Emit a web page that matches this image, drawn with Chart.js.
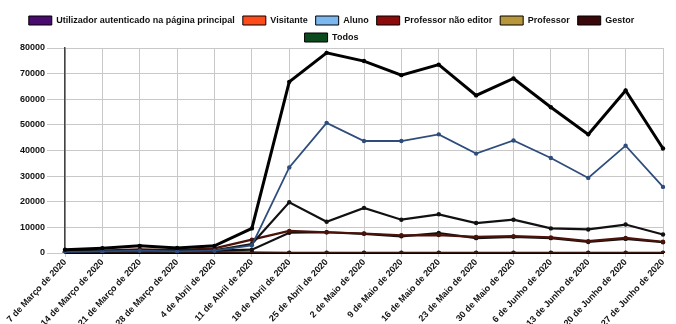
<!DOCTYPE html>
<html>
<head>
<meta charset="utf-8">
<script src="https://cdn.jsdelivr.net/npm/chart.js@4/dist/chart.umd.min.js"></script>
<style>
html,body{margin:0;padding:0;background:#fff;}
#wrap{width:676px;height:324px;position:relative;}
</style>
</head>
<body>
<div id="wrap"><canvas id="c" width="676" height="324"></canvas></div>
<script>
const categories = ["7 de Março de 2020","14 de Março de 2020","21 de Março de 2020","28 de Março de 2020","4 de Abril de 2020","11 de Abril de 2020","18 de Abril de 2020","25 de Abril de 2020","2 de Maio de 2020","9 de Maio de 2020","16 de Maio de 2020","23 de Maio de 2020","30 de Maio de 2020","6 de Junho de 2020","13 de Junho de 2020","20 de Junho de 2020","27 de Junho de 2020"];
const seriesNames = ["Utilizador autenticado na página principal","Visitante","Aluno","Professor não editor","Professor","Gestor","Todos"];
const utilizador = [500, 700, 1000, 800, 1000, 3500, 19800, 12200, 17600, 13000, 15100, 11700, 13000, 9600, 9200, 11100, 7200];
const visitante = [100, 200, 300, 200, 400, 300, 100, 100, 100, 100, 100, 100, 100, 100, 100, 100, 100];
const aluno = [400, 600, 900, 600, 900, 3000, 33400, 50800, 43700, 43700, 46300, 38800, 43900, 37100, 29300, 41900, 25800];
const profNaoEditor = [600, 900, 1400, 1100, 1800, 5200, 8600, 8100, 7600, 6900, 7000, 6300, 6600, 6100, 4600, 5900, 4400];
const professor = [300, 500, 700, 500, 900, 1300, 7900, 8100, 7500, 6500, 7800, 5800, 6300, 5800, 4300, 5500, 4200];
const gestor = [0, 0, 0, 0, 0, 0, 0, 0, 0, 0, 0, 0, 0, 0, 0, 0, 0];
const todos = [1300, 1900, 2800, 2000, 2800, 9600, 66800, 78100, 74900, 69400, 73500, 61500, 68100, 56900, 46300, 63400, 40800];
const yTicks = [0, 10000, 20000, 30000, 40000, 50000, 60000, 70000, 80000];

const FONT = "'Liberation Sans', Arial, sans-serif";
function ds(label, data, fill, line, width) {
  return {label, data, backgroundColor: fill, borderColor: line, borderWidth: width,
    pointRadius: 2.2, pointBackgroundColor: line, pointBorderColor: line, pointBorderWidth: 0,
    tension: 0, fill: false};
}
const legendHeight = {id:'legendHeight', beforeInit(chart){
  const fit = chart.legend.fit;
  chart.legend.fit = function(){ fit.call(this); this.height = 40; };
}};
new Chart(document.getElementById('c'), {
  type: 'line',
  data: {
    labels: categories,
    datasets: [
      ds(seriesNames[6], todos, '#0b4a1c', '#000000', 3),
      ds(seriesNames[2], aluno, '#7cb8f0', '#2e4d7c', 1.8),
      ds(seriesNames[0], utilizador, '#4a0b6e', '#111111', 2.2),
      ds(seriesNames[3], profNaoEditor, '#8c0a0a', '#4a1208', 2.2),
      ds(seriesNames[4], professor, '#b8963a', '#111111', 2.2),
      ds(seriesNames[1], visitante, '#ff4a1a', '#3a1a10', 1.5),
      ds(seriesNames[5], gestor, '#3a0808', '#000000', 2.5)
    ]
  },
  options: {
    responsive: false, animation: false, devicePixelRatio: 1,
    layout: {padding: {top: 8, right: 13, left: 0, bottom: 0}},
    plugins: {
      legend: {
        position: 'top',
        maxWidth: 625,
        labels: {
          boxWidth: 23, boxHeight: 9, padding: 8, color: '#111',
          font: {family: FONT, size: 9, weight: 'bold'},
          sort: (a, b) => seriesNames.indexOf(a.text) - seriesNames.indexOf(b.text),
          generateLabels(chart) {
            const items = Chart.defaults.plugins.legend.labels.generateLabels(chart);
            items.forEach(it => { it.strokeStyle = '#000'; it.lineWidth = 1; });
            return items;
          }
        }
      },
      tooltip: {enabled: false}
    },
    scales: {
      x: {
        grid: {color: '#c8c8c8', lineWidth: 1, drawTicks: true, tickLength: 4},
        border: {color: '#000', width: 2},
        ticks: {autoSkip: false, minRotation: 47, maxRotation: 47, color: '#111', padding: 0,
          font: {family: FONT, size: 9, weight: 'bold'}},
        afterFit(s){ s.height = 71; }
      },
      y: {
        min: 0, max: 80000,
        afterBuildTicks(s){ s.ticks = yTicks.map(v => ({value: v})); },
        grid: {color: '#c8c8c8', lineWidth: 1, tickLength: 18},
        border: {color: '#444', width: 1.5},
        ticks: {color: '#111', padding: 2, font: {family: FONT, size: 9, weight: 'bold'},
          callback: v => String(v)},
        afterFit(s){ s.width = 65; }
      }
    }
  },
  plugins: [legendHeight]
});
</script>
</body>
</html>
